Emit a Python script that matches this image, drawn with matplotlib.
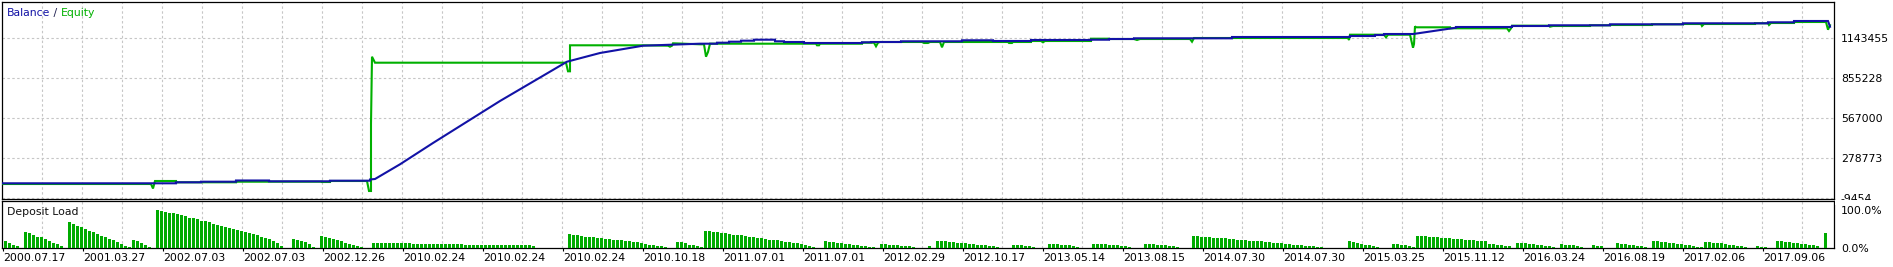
import matplotlib
matplotlib.use('Agg')
import matplotlib.pyplot as plt
import numpy as np
from matplotlib.patches import Rectangle

# === DATA ===
# balance curve: trade step -> account value
bal_t = [2, 176, 176, 201, 201, 236, 236, 269, 269, 330,
         330, 370, 370, 375, 400, 433, 500, 567, 600, 643,
         700, 717, 717, 729, 729, 741, 741, 754, 754, 775,
         775, 784, 784, 804, 804, 862, 862, 871, 871, 901,
         901, 962, 962, 993, 993, 1031, 1031, 1091, 1091, 1109,
         1109, 1134, 1134, 1232, 1232, 1350, 1350, 1375, 1375, 1384,
         1384, 1413, 1418, 1456, 1456, 1512, 1512, 1549, 1549, 1610,
         1610, 1683, 1683, 1768, 1768, 1794, 1794, 1828, 1830]
balance = [96470, 96470, 103675, 103675, 107999, 107999, 116646, 116646, 110881, 110881,
           115204, 115204, 123851, 127454, 233378, 386859, 689498, 972682, 1035371, 1087972,
           1102384, 1102384, 1109589, 1109589, 1116795, 1116795, 1124001, 1124001, 1131207, 1131207,
           1119678, 1119678, 1114634, 1114634, 1107428, 1107428, 1112472, 1112472, 1114634, 1114634,
           1119678, 1119678, 1126883, 1126883, 1121839, 1121839, 1129045, 1129045, 1131207, 1131207,
           1136251, 1136251, 1141295, 1141295, 1150662, 1150662, 1157868, 1157868, 1165073, 1165073,
           1172279, 1172279, 1177323, 1217675, 1222719, 1222719, 1229925, 1229925, 1234969, 1234969,
           1242174, 1242174, 1249380, 1249380, 1256586, 1256586, 1265953, 1265953, 1224881]

# equity curve
eq_t = [2, 151, 153, 155, 176, 176, 236, 236, 322, 322,
        330, 330, 367, 369, 371, 371, 372, 375, 566, 568,
        570, 570, 643, 668, 670, 672, 673, 700, 704, 706,
        708, 710, 816, 817, 819, 820, 862, 862, 874, 876,
        878, 880, 922, 924, 928, 930, 940, 942, 944, 1008,
        1009, 1012, 1013, 1031, 1031, 1041, 1043, 1045, 1091, 1091,
        1109, 1109, 1134, 1137, 1140, 1190, 1192, 1194, 1348, 1349,
        1350, 1384, 1386, 1388, 1410, 1413, 1414, 1415, 1416, 1450,
        1450, 1507, 1509, 1511, 1512, 1549, 1550, 1553, 1590, 1590,
        1610, 1610, 1652, 1652, 1683, 1683, 1701, 1702, 1704, 1755,
        1755, 1768, 1769, 1771, 1794, 1794, 1826, 1828, 1830]
equity = [91426, 91426, 59000, 113043, 113043, 103675, 103675, 107999, 107999, 105837,
          105837, 113043, 113043, 40986, 40986, 523767, 1008710, 965476, 965476, 903507,
          903507, 1090855, 1090855, 1087972, 1080767, 1087972, 1105266, 1098061, 1098061, 1008710,
          1042577, 1102384, 1102384, 1090855, 1090855, 1102384, 1102384, 1109589, 1109589, 1083649,
          1109589, 1114634, 1114634, 1107428, 1107428, 1114634, 1114634, 1076443, 1114634, 1114634,
          1107428, 1107428, 1114634, 1114634, 1121839, 1121839, 1112472, 1121839, 1121839, 1138413,
          1138413, 1136251, 1136251, 1129045, 1136251, 1136251, 1116795, 1143456, 1143456, 1129045,
          1167235, 1167235, 1148500, 1167235, 1167235, 1073561, 1100000, 1227764, 1220558, 1220558,
          1213352, 1213352, 1193896, 1213352, 1232087, 1232087, 1224881, 1229925, 1229925, 1234969,
          1234969, 1237130, 1237130, 1242174, 1242174, 1244336, 1244336, 1229925, 1244336, 1244336,
          1249380, 1249380, 1237130, 1251542, 1251542, 1258747, 1258747, 1203264, 1234969]

# deposit load per bar, percent
load_pct = [
    18, 15, 10, 6, 0,
    44, 41, 35, 31, 29, 25, 20, 15, 11, 7, 0,
    68, 64, 60, 55, 51, 46, 42, 38, 33, 29, 25, 21, 17, 12, 7, 4,
    22, 18, 13, 9, 4, 0,
    100, 99, 96, 94, 92, 89, 87, 84, 81, 79, 76, 73, 71, 68, 65, 62,
    60, 57, 54, 51, 49, 46, 43, 40, 37, 34, 31, 27, 24, 19, 13, 6,
    0, 1, 25, 22, 18, 16, 11, 4, 0,
    32, 31, 27, 25, 22, 18, 15, 12, 9, 6, 4, 0, 0,
    14, 14, 14, 14, 13, 13, 13, 13, 13, 13, 12, 12, 12, 12, 12, 12, 11, 11, 11, 11,
    11, 11, 11, 10, 10, 10, 10, 10, 10, 10, 9, 9, 9, 9, 9, 9, 8, 8, 8, 8, 7,
    1, 1, 1, 1, 1, 1, 1, 1,
    37, 36, 34, 33, 31, 30, 29, 28, 26, 25, 24, 23, 22, 21, 20, 18, 17, 16, 14, 12,
    10, 9, 7, 5, 3, 0, 0,
    17, 16, 13, 10, 8, 6, 4,
    46, 45, 44, 43, 41, 39, 37, 36, 35, 34, 32, 31, 30, 28, 27, 25, 23, 22, 21, 19,
    17, 16, 14, 13, 11, 8, 5, 3, 0, 0,
    18, 17, 16, 14, 13, 12, 11, 9, 8, 7, 5, 4, 3, 0,
    12, 11, 10, 9, 8, 7, 6, 5, 3, 2, 1, 1, 5, 0,
    20, 19, 18, 17, 16, 15, 14, 13, 12, 11, 10, 9, 8, 7, 5, 3, 2, 0, 1,
    10, 9, 8, 7, 5, 3, 2, 1, 1,
    12, 12, 11, 10, 9, 8, 6, 4, 2, 1, 0,
    12, 12, 11, 11, 10, 9, 8, 7, 6, 4, 2, 1, 0,
    12, 12, 11, 10, 9, 8, 7, 6, 4, 2, 1, 0,
    32, 32, 31, 30, 29, 28, 28, 27, 26, 25, 24, 23, 22, 21, 20, 19, 19, 18, 17, 16,
    15, 14, 13, 12, 11, 10, 9, 8, 7, 6, 5, 4, 3,
    1, 1, 0, 1, 1, 1,
    18, 16, 15, 11, 10, 8, 6, 3, 0, 1, 0,
    12, 11, 10, 8, 6, 3,
    33, 33, 32, 31, 30, 29, 28, 27, 26, 25, 25, 24, 23, 22, 21, 20, 19, 18, 12, 11,
    10, 8, 6, 5, 0,
    14, 14, 13, 12, 11, 10, 8, 7, 5, 3, 0,
    11, 10, 9, 8, 6, 3, 0, 1,
    8, 7, 5, 1, 0, 0,
    13, 12, 11, 10, 9, 7, 5, 3, 0,
    18, 18, 17, 16, 15, 14, 12, 11, 9, 8, 6, 4, 3,
    16, 16, 15, 14, 13, 12, 10, 9, 7, 5, 3, 0, 1,
    5, 4, 3, 1, 0,
    18, 18, 17, 16, 15, 14, 12, 11, 9, 8, 6, 0, 40,
]

date_labels = ['2000.07.17', '2001.03.27', '2002.07.03', '2002.07.03', '2002.12.26',
               '2010.02.24', '2010.02.24', '2010.02.24', '2010.10.18', '2011.07.01',
               '2011.07.01', '2012.02.29', '2012.10.17', '2013.05.14', '2013.08.15',
               '2014.07.30', '2014.07.30', '2015.03.25', '2015.11.12', '2016.03.24',
               '2016.08.19', '2017.02.06', '2017.09.06']
y_ticks = [-9454, 278773, 567000, 855228, 1143455]
load_ticks = [0, 100]
load_tick_labels = ['0.0%', '100.0%']

# === STYLE ===
BLUE = '#1212a6'
GREEN = '#00b000'
BAR = '#00ab00'
GRID = '#c6c6c6'
FS = 7.8
DASH = (0, (2.2, 2.2))

W, H = 1893, 267
fig = plt.figure(figsize=(W / 100, H / 100), dpi=100)
fig.patch.set_facecolor('white')


def px_axes(x0, y0, x1, y1):
    # box in pixels measured from the top-left corner
    return fig.add_axes([x0 / W, 1 - y1 / H, (x1 - x0) / W, (y1 - y0) / H])


ax = px_axes(2, 2, 1834, 199)
ax2 = px_axes(2, 201, 1834, 248.3)

grid_x = np.arange(42, 1810, 40)

# === MAIN PANEL ===
step = (y_ticks[1] - y_ticks[0]) / 40.0   # value per pixel
ax.set_xlim(2, 1834)
ax.set_ylim(y_ticks[0] - 1 * step, y_ticks[0] + 196 * step)
ax.plot(eq_t, equity, color=GREEN, lw=1.5, solid_joinstyle='miter', zorder=3)
ax.plot(bal_t, balance, color=BLUE, lw=1.5, solid_joinstyle='miter', zorder=4)

ax.set_xticks(grid_x)
ax.set_xticklabels([])
ax.tick_params(axis='x', length=0)
ax.yaxis.tick_right()
ax.set_yticks(y_ticks)
ax.set_yticklabels([str(v) for v in y_ticks], fontsize=FS)
ax.tick_params(axis='y', length=0, pad=5)
ax.grid(True, color=GRID, lw=0.8, linestyle=DASH)
for s in ax.spines.values():
    s.set_linewidth(0.9)

t1 = ax.annotate('Balance', xy=(0, 1), xycoords='axes fraction',
                 xytext=(5, -11), textcoords='offset pixels',
                 va='center', ha='left', color=BLUE, fontsize=FS)
t2 = ax.annotate(' / ', xy=(1, 0.5), xycoords=t1, va='center', ha='left',
                 color='#202050', fontsize=FS)
ax.annotate('Equity', xy=(1, 0.5), xycoords=t2, va='center', ha='left',
            color=GREEN, fontsize=FS)

# === DEPOSIT LOAD PANEL ===
bar_x = 4 + 4 * np.arange(len(load_pct))
ax2.bar(bar_x, load_pct, width=3, align='edge', color=BAR, linewidth=0, zorder=3)
ax2.set_xlim(2, 1834)
ax2.set_ylim(0, 100 * (47.3 / 38.0))
ax2.set_xticks(3 + 80 * np.arange(len(date_labels)))
ax2.set_xticklabels(date_labels, fontsize=FS, ha='left')
ax2.set_xticks(grid_x, minor=True)
ax2.tick_params(axis='x', which='major', length=2.5, width=0.8, pad=1)
ax2.tick_params(axis='x', which='minor', length=0)
ax2.grid(True, which='minor', axis='x', color=GRID, lw=0.8, linestyle=DASH)
ax2.yaxis.tick_right()
ax2.set_yticks(load_ticks)
ax2.set_yticklabels(load_tick_labels, fontsize=FS)
ax2.tick_params(axis='y', length=0, pad=5)
for s in ax2.spines.values():
    s.set_linewidth(0.9)

ax2.annotate('Deposit Load', xy=(0, 1), xycoords='axes fraction',
             xytext=(5, -11), textcoords='offset pixels',
             va='center', ha='left', color='#101010', fontsize=FS)

# the lowest balance label is cut by the lower panel in the original
fig.patches.append(Rectangle((1835 / W, 1 - 205 / H), (W - 1835) / W, 5.5 / H,
                             transform=fig.transFigure, facecolor='white',
                             edgecolor='none', zorder=5))

fig.savefig('out.png', dpi=100, facecolor='white')
plt.close(fig)
